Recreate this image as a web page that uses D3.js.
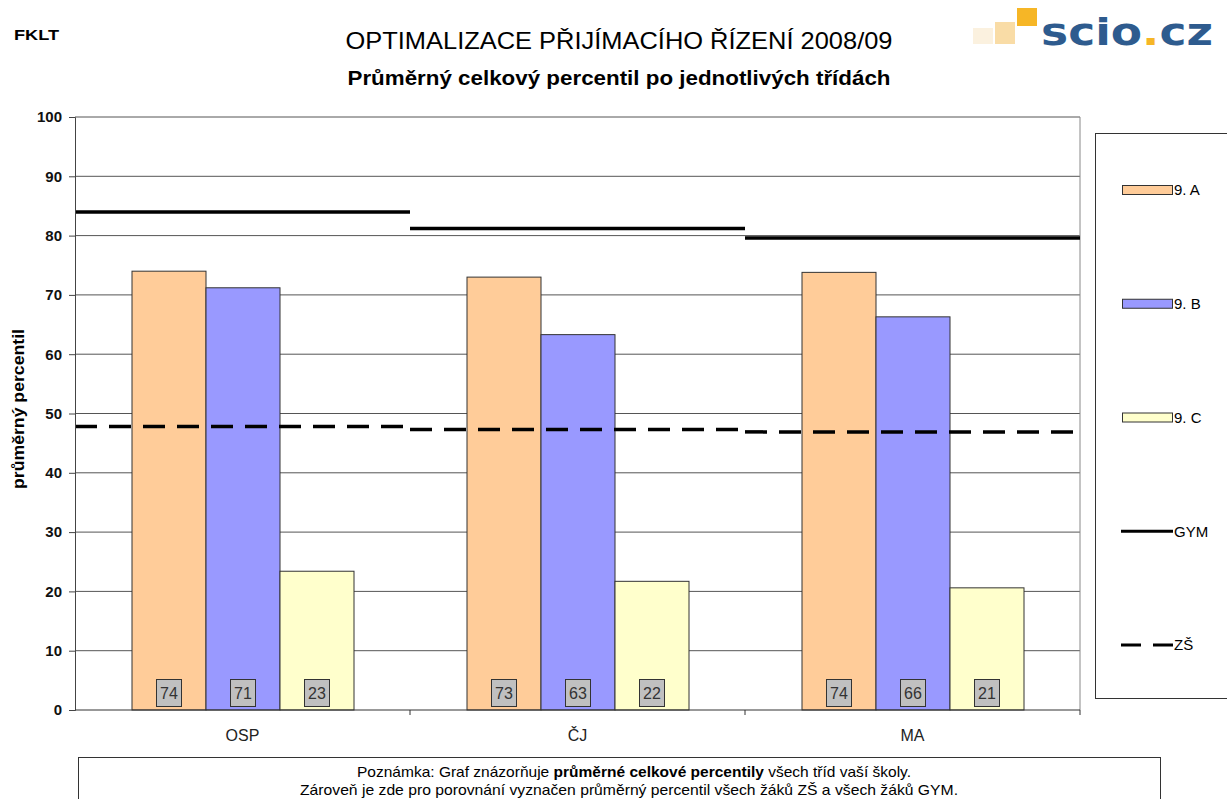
<!DOCTYPE html>
<html>
<head>
<meta charset="utf-8">
<script src="https://cdn.jsdelivr.net/npm/d3@7"></script>
<style>
    body { margin: 0; background: #fff; }
    svg { display: block; font-family: "Liberation Sans", Arial, sans-serif; }
</style>
</head>
<body>
<svg id="chart" width="1227" height="799"></svg>
<script>
// DATA
var categories = ["OSP", "ČJ", "MA"];
var seriesNames = ["9. A", "9. B", "9. C"];
var seriesColors = ["#ffcc99", "#9999ff", "#ffffcc"];
var valuesA = [74.0, 73.0, 73.8];
var valuesB = [71.2, 63.3, 66.3];
var valuesC = [23.4, 21.7, 20.6];
var labelsA = [74, 73, 74];
var labelsB = [71, 63, 66];
var labelsC = [23, 22, 21];
var gymValues = [84.0, 81.2, 79.6];
var zsValues = [47.8, 47.3, 46.9];
var yTicks = [0, 10, 20, 30, 40, 50, 60, 70, 80, 90, 100];

var svg = d3.select("#chart");

// plot area
var _left = 75, _right = 1080, _top = 117, _bottom = 710;

var x0 = d3.scaleBand().domain(categories).range([_left, _right]).padding(0);
var x1 = d3.scaleBand().domain(seriesNames).range([57, 279]).padding(0);
var y = d3.scaleLinear().domain([0, 100]).range([_bottom, _top]);

var seriesValues = [valuesA, valuesB, valuesC];
var seriesLabels = [labelsA, labelsB, labelsC];

// HEADER
svg.append("text")
    .attr("x", 14).attr("y", 40)
    .attr("textLength", 45).attr("lengthAdjust", "spacingAndGlyphs")
    .style("font-size", "15px").style("font-weight", "bold")
    .text("FKLT");

svg.append("text")
    .attr("x", 619).attr("y", 49)
    .attr("text-anchor", "middle")
    .attr("textLength", 547).attr("lengthAdjust", "spacingAndGlyphs")
    .style("font-size", "24px")
    .text("OPTIMALIZACE PŘIJÍMACÍHO ŘÍZENÍ 2008/09");

svg.append("text")
    .attr("x", 619).attr("y", 85)
    .attr("text-anchor", "middle")
    .attr("textLength", 543).attr("lengthAdjust", "spacingAndGlyphs")
    .style("font-size", "21px").style("font-weight", "bold")
    .text("Průměrný celkový percentil po jednotlivých třídách");

// logo
var logo = svg.append("g").classed("logo", true);
logo.append("rect").attr("x", 973).attr("y", 28).attr("width", 20).attr("height", 16).attr("fill", "#fbf1df");
logo.append("rect").attr("x", 995).attr("y", 22).attr("width", 20).attr("height", 22).attr("fill", "#f9dca6");
logo.append("rect").attr("x", 1017).attr("y", 8).attr("width", 20).attr("height", 18).attr("fill", "#f6b626");
var logoText = logo.append("text")
    .attr("x", 1041).attr("y", 45)
    .attr("textLength", 172).attr("lengthAdjust", "spacingAndGlyphs")
    .style("font-family", "'DejaVu Sans', sans-serif")
    .style("font-size", "38px").style("font-weight", "bold")
    .attr("fill", "#2e5b8e");
logoText.append("tspan").text("scio");
logoText.append("tspan").attr("fill", "#f6b626").text(".");
logoText.append("tspan").text("cz");

// GRID
svg.append("g").selectAll("line")
    .data(yTicks.filter(function(d) { return d > 0; }))
    .enter().append("line")
        .attr("x1", _left).attr("x2", _right)
        .attr("y1", function(d) { return y(d); })
        .attr("y2", function(d) { return y(d); })
        .attr("stroke", "#555").attr("stroke-width", 1);

svg.append("line")
    .attr("x1", _right).attr("x2", _right)
    .attr("y1", _top).attr("y2", _bottom)
    .attr("stroke", "#888");

// BARS
var groups = svg.append("g").selectAll("g")
    .data(categories)
    .enter().append("g")
        .attr("transform", function(d) { return "translate(" + x0(d) + ",0)"; });

groups.selectAll("rect")
    .data(function(d, ci) {
        return seriesNames.map(function(s, si) {
            return { series: s, value: seriesValues[si][ci], label: seriesLabels[si][ci], color: seriesColors[si] };
        });
    })
    .enter().append("rect")
        .attr("x", function(d) { return x1(d.series); })
        .attr("y", function(d) { return y(d.value); })
        .attr("width", x1.bandwidth())
        .attr("height", function(d) { return _bottom - y(d.value); })
        .attr("fill", function(d) { return d.color; })
        .attr("stroke", "#333").attr("stroke-width", 1);

// value labels
var labelGroups = groups.selectAll("g.value-label")
    .data(function(d, ci) {
        return seriesNames.map(function(s, si) {
            return { series: s, label: seriesLabels[si][ci] };
        });
    })
    .enter().append("g")
        .classed("value-label", true)
        .attr("transform", function(d) {
            return "translate(" + (x1(d.series) + x1.bandwidth() / 2) + "," + (_bottom - 17) + ")";
        });

labelGroups.append("rect")
    .attr("x", -12.5).attr("y", -13.5)
    .attr("width", 25).attr("height", 27)
    .attr("fill", "#c0c0c0").attr("stroke", "#333");

labelGroups.append("text")
    .attr("dy", ".36em")
    .attr("text-anchor", "middle")
    .style("font-size", "16px")
    .attr("fill", "#333")
    .text(function(d) { return d.label; });

// REFERENCE LINES
svg.append("g").selectAll("line")
    .data(categories)
    .enter().append("line")
        .attr("x1", function(d) { return x0(d); })
        .attr("x2", function(d) { return x0(d) + x0.bandwidth(); })
        .attr("y1", function(d, i) { return y(gymValues[i]); })
        .attr("y2", function(d, i) { return y(gymValues[i]); })
        .attr("stroke", "#000").attr("stroke-width", 3.5);

svg.append("g").selectAll("line")
    .data(categories)
    .enter().append("line")
        .attr("x1", function(d) { return x0(d); })
        .attr("x2", function(d) { return x0(d) + x0.bandwidth(); })
        .attr("y1", function(d, i) { return y(zsValues[i]); })
        .attr("y2", function(d, i) { return y(zsValues[i]); })
        .attr("stroke", "#000").attr("stroke-width", 3.5)
        .attr("stroke-dasharray", "22,12");

// AXES
var yAxis = svg.append("g")
    .attr("transform", "translate(" + _left + ",0)")
    .call(d3.axisLeft(y).tickValues(yTicks).tickSize(6).tickPadding(7));
yAxis.select(".domain").attr("stroke", "#444");
yAxis.selectAll(".tick line").attr("stroke", "#444");
yAxis.selectAll("text")
    .style("font-size", "15px").style("font-weight", "bold")
    .style("font-family", "'Liberation Sans', Arial, sans-serif")
    .attr("fill", "#111");

var xAxis = svg.append("g")
    .attr("transform", "translate(0," + _bottom + ")");
xAxis.append("line")
    .attr("x1", _left).attr("x2", _right)
    .attr("stroke", "#333");
xAxis.selectAll("line.tick")
    .data(categories)
    .enter().append("line")
        .classed("tick", true)
        .attr("x1", function(d) { return x0(d) + x0.bandwidth(); })
        .attr("x2", function(d) { return x0(d) + x0.bandwidth(); })
        .attr("y1", 0).attr("y2", 5)
        .attr("stroke", "#333");
xAxis.selectAll("text")
    .data(categories)
    .enter().append("text")
        .attr("x", function(d) { return x0(d) + x0.bandwidth() / 2; })
        .attr("y", 31)
        .attr("text-anchor", "middle")
        .style("font-size", "16px")
        .attr("fill", "#222")
        .text(function(d) { return d; });

svg.append("text")
    .attr("transform", "translate(24,409) rotate(-90)")
    .attr("text-anchor", "middle")
    .attr("textLength", 160).attr("lengthAdjust", "spacingAndGlyphs")
    .style("font-size", "16px").style("font-weight", "bold")
    .text("průměrný percentil");

// LEGEND
var legend = svg.append("g");
legend.append("rect")
    .attr("x", 1095.5).attr("y", 133.5)
    .attr("width", 150).attr("height", 565)
    .attr("fill", "#fff").attr("stroke", "#333");

var legendY = d3.scalePoint().domain(seriesNames.concat(["GYM", "ZŠ"])).range([190, 645]);

seriesNames.forEach(function(s, i) {
    legend.append("rect")
        .attr("x", 1122.5).attr("y", legendY(s) - 4.5)
        .attr("width", 50).attr("height", 9)
        .attr("fill", seriesColors[i]).attr("stroke", "#333");
    legend.append("text")
        .attr("x", 1174).attr("y", legendY(s)).attr("dy", ".36em")
        .style("font-size", "15px")
        .text(s);
});

legend.append("line")
    .attr("x1", 1121).attr("x2", 1173)
    .attr("y1", legendY("GYM")).attr("y2", legendY("GYM"))
    .attr("stroke", "#000").attr("stroke-width", 3);
legend.append("text")
    .attr("x", 1174).attr("y", legendY("GYM")).attr("dy", ".36em")
    .style("font-size", "15px").text("GYM");

legend.append("line")
    .attr("x1", 1121).attr("x2", 1173)
    .attr("y1", legendY("ZŠ")).attr("y2", legendY("ZŠ"))
    .attr("stroke", "#000").attr("stroke-width", 3)
    .attr("stroke-dasharray", "20,12");
legend.append("text")
    .attr("x", 1174).attr("y", legendY("ZŠ")).attr("dy", ".36em")
    .style("font-size", "15px").text("ZŠ");

// NOTE
svg.append("rect")
    .attr("x", 78.5).attr("y", 757.5)
    .attr("width", 1082).attr("height", 60)
    .attr("fill", "#fff").attr("stroke", "#333");

var note1 = svg.append("text")
    .attr("x", 634).attr("y", 777)
    .attr("text-anchor", "middle")
    .attr("textLength", 554).attr("lengthAdjust", "spacingAndGlyphs")
    .style("font-size", "15px");
note1.append("tspan").text("Poznámka: Graf znázorňuje ");
note1.append("tspan").style("font-weight", "bold").text("průměrné celkové percentily");
note1.append("tspan").text(" všech tříd vaší školy.");

svg.append("text")
    .attr("x", 629).attr("y", 795)
    .attr("text-anchor", "middle")
    .attr("textLength", 658).attr("lengthAdjust", "spacingAndGlyphs")
    .style("font-size", "15px")
    .text("Zároveň je zde pro porovnání vyznačen průměrný percentil všech žáků ZŠ a všech žáků GYM.");
</script>
</body>
</html>
